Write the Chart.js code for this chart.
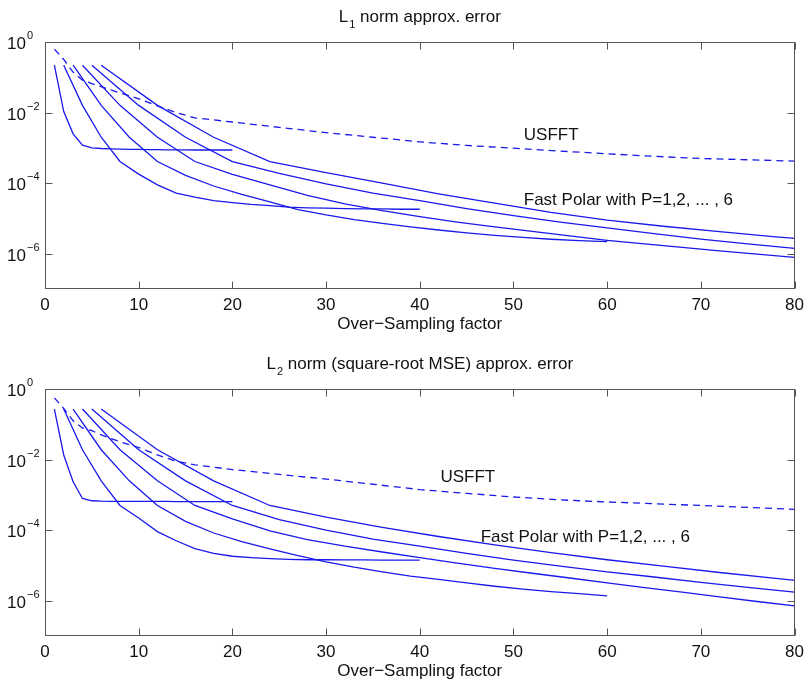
<!DOCTYPE html>
<html>
<head>
<meta charset="utf-8">
<script src="https://cdn.jsdelivr.net/npm/chart.js@4.4.1/dist/chart.umd.min.js"></script>
<style>
  html, body { margin: 0; padding: 0; background: #fff; }
  #wrap { position: relative; width: 810px; height: 682px; overflow: hidden; }
  .panel { position: absolute; left: 0; width: 810px; height: 335px; }
</style>
</head>
<body>
<div id="wrap">
  <div class="panel" style="top:0"><canvas id="chart-l1" width="810" height="335"></canvas></div>
  <div class="panel" style="top:347px"><canvas id="chart-l2" width="810" height="335"></canvas></div>
</div>
<script>
// --- data ---
const xTicks = [0, 10, 20, 30, 40, 50, 60, 70, 80];
const yTickExp = [0, -2, -4, -6];

// over-sampling factors of each Fast Polar curve (P = 1..6)
const polarX1 = [1, 2, 3, 4, 5, 6, 7, 8, 9, 10, 11, 12, 13, 14, 15, 16, 17, 18, 19, 20];
const polarX2 = [2, 4, 6, 8, 10, 12, 14, 16, 18, 20, 22, 24, 26, 28, 30, 32, 34, 36, 38, 40];
const polarX3 = [3, 6, 9, 12, 15, 18, 21, 24, 27, 30, 33, 36, 39, 42, 45, 48, 51, 54, 57, 60];
const polarX4 = [4, 8, 12, 16, 20, 24, 28, 32, 36, 40, 44, 48, 52, 56, 60, 64, 68, 72, 76, 80];
const polarX5 = [5, 10, 15, 20, 25, 30, 35, 40, 45, 50, 55, 60, 65, 70, 75, 80];
const polarX6 = [6, 12, 18, 24, 30, 36, 42, 48, 54, 60, 66, 72, 78, 84];
const usfftX  = [1, 2, 3, 4, 5, 6, 8, 10, 12, 14, 16, 20, 25, 30, 35, 40, 45, 50, 55, 60, 65, 70, 75, 80];

// L1 norm error
const l1Usfft = [6.3e-1, 3.2e-1, 1.4e-1, 8.3e-2, 6.6e-2, 5.4e-2, 3.6e-2, 2.45e-2, 1.55e-2, 1.0e-2, 7.1e-3, 5.4e-3,
                 3.8e-3, 2.7e-3, 2.0e-3, 1.48e-3, 1.17e-3, 9.8e-4, 8.1e-4, 6.8e-4, 5.75e-4, 5.0e-4, 4.6e-4, 4.2e-4];
const l1P1 = [2.2e-1, 1.07e-2, 2.5e-3, 1.2e-3, 1.0e-3, 9.6e-4, 9.4e-4, 9.2e-4, 9.1e-4, 9.0e-4,
              8.9e-4, 8.9e-4, 8.8e-4, 8.8e-4, 8.8e-4, 8.7e-4, 8.7e-4, 8.7e-4, 8.7e-4, 8.7e-4];
const l1P2 = [2.2e-1, 1.6e-2, 2.0e-3, 4.1e-4, 1.8e-4, 8.9e-5, 5.2e-5, 4.0e-5, 3.2e-5, 2.8e-5,
              2.5e-5, 2.3e-5, 2.1e-5, 2.0e-5, 1.95e-5, 1.9e-5, 1.86e-5, 1.86e-5, 1.82e-5, 1.82e-5];
const l1P3 = [2.2e-1, 1.6e-2, 2.0e-3, 4.1e-4, 1.66e-4, 8.3e-5, 4.8e-5, 2.95e-5, 1.78e-5, 1.26e-5,
              9.3e-6, 7.2e-6, 5.75e-6, 4.7e-6, 3.9e-6, 3.3e-6, 2.9e-6, 2.57e-6, 2.34e-6, 2.19e-6];
const l1P4 = [2.2e-1, 1.6e-2, 2.0e-3, 4.1e-4, 1.78e-4, 8.9e-5, 4.5e-5, 2.6e-5, 1.66e-5, 1.12e-5,
              7.9e-6, 5.75e-6, 4.3e-6, 3.2e-6, 2.4e-6, 1.9e-6, 1.51e-6, 1.2e-6, 9.8e-7, 7.9e-7];
const l1P5 = [2.2e-1, 1.6e-2, 2.0e-3, 4.1e-4, 1.9e-4, 9.5e-5, 5.2e-5, 3.2e-5, 1.9e-5, 1.2e-5,
              7.9e-6, 5.4e-6, 3.7e-6, 2.6e-6, 1.9e-6, 1.41e-6];
const l1P6 = [2.2e-1, 1.6e-2, 2.0e-3, 4.1e-4, 2.0e-4, 1.0e-4, 5.0e-5, 2.7e-5, 1.48e-5, 8.9e-6,
              6.0e-6, 4.2e-6, 3.0e-6, 2.24e-6];

// L2 norm (square-root MSE) error
const l2Usfft = [5.6e-1, 2.8e-1, 1.26e-1, 7.9e-2, 6.6e-2, 5.0e-2, 3.2e-2, 2.2e-2, 1.35e-2, 8.9e-3, 7.1e-3, 5.2e-3,
                 3.8e-3, 2.8e-3, 2.0e-3, 1.41e-3, 1.1e-3, 8.7e-4, 7.2e-4, 6.3e-4, 5.6e-4, 5.0e-4, 4.4e-4, 3.9e-4];
const l2P1 = [2.7e-1, 1.35e-2, 2.35e-3, 7.9e-4, 6.8e-4, 6.6e-4, 6.5e-4, 6.5e-4, 6.5e-4, 6.5e-4,
              6.5e-4, 6.5e-4, 6.5e-4, 6.4e-4, 6.4e-4, 6.4e-4, 6.4e-4, 6.4e-4, 6.4e-4, 6.4e-4];
const l2P2 = [2.7e-1, 1.9e-2, 2.5e-3, 5.0e-4, 2.2e-4, 9.1e-5, 5.0e-5, 3.0e-5, 2.2e-5, 1.82e-5,
              1.66e-5, 1.55e-5, 1.48e-5, 1.45e-5, 1.45e-5, 1.44e-5, 1.43e-5, 1.42e-5, 1.42e-5, 1.41e-5];
const l2P3 = [2.7e-1, 1.9e-2, 2.5e-3, 5.0e-4, 1.78e-4, 8.3e-5, 4.7e-5, 2.95e-5, 1.9e-5, 1.26e-5,
              8.9e-6, 6.6e-6, 5.0e-6, 4.0e-6, 3.2e-6, 2.57e-6, 2.14e-6, 1.82e-6, 1.58e-6, 1.38e-6];
const l2P4 = [2.7e-1, 1.9e-2, 2.5e-3, 5.0e-4, 2.1e-4, 9.5e-5, 5.4e-5, 3.5e-5, 2.4e-5, 1.66e-5,
              1.17e-5, 8.3e-6, 6.0e-6, 4.4e-6, 3.2e-6, 2.34e-6, 1.74e-6, 1.29e-6, 9.5e-7, 7.1e-7];
const l2P5 = [2.7e-1, 1.9e-2, 2.5e-3, 5.0e-4, 2.0e-4, 1.0e-4, 5.6e-5, 3.5e-5, 2.2e-5, 1.41e-5,
              9.5e-6, 6.6e-6, 4.7e-6, 3.3e-6, 2.4e-6, 1.74e-6];
const l2P6 = [2.7e-1, 1.9e-2, 2.5e-3, 5.0e-4, 2.34e-4, 1.2e-4, 6.6e-5, 3.8e-5, 2.3e-5, 1.45e-5,
              9.5e-6, 6.3e-6, 4.3e-6, 2.95e-6];

// --- style ---
const FONT = '"Liberation Sans", Arial, Helvetica, sans-serif';
const BLUE = 'rgb(25,25,235)';
const FRAME = '#555';

function pts(xs, ys) {
  return xs.map((x, i) => ({x: x, y: ys[i]}));
}

// MATLAB-like box, inward ticks, 10^n labels, titles and text notes
const matlabAxes = {
  id: 'matlabAxes',
  afterDraw(chart, args, opts) {
    const {ctx, chartArea: a, scales: {x, y}} = chart;
    const L = Math.round(a.left) + 0.5, R = Math.round(a.right) - 0.5;
    const T = Math.round(a.top) + 0.5, B = Math.round(a.bottom) - 0.5;
    ctx.save();
    ctx.strokeStyle = FRAME;
    ctx.lineWidth = 1;
    ctx.strokeRect(L, T, R - L, B - T);

    ctx.beginPath();
    xTicks.forEach(v => {
      const px = Math.round(x.getPixelForValue(v)) + 0.5;
      ctx.moveTo(px, B); ctx.lineTo(px, B - 7);
      ctx.moveTo(px, T); ctx.lineTo(px, T + 7);
    });
    yTickExp.forEach(e => {
      const py = Math.round(y.getPixelForValue(Math.pow(10, e))) + 0.5;
      ctx.moveTo(L, py); ctx.lineTo(L + 7, py);
      ctx.moveTo(R, py); ctx.lineTo(R - 7, py);
    });
    ctx.stroke();

    // y tick labels 10^n
    ctx.fillStyle = '#111';
    ctx.textBaseline = 'alphabetic';
    yTickExp.forEach(e => {
      const py = y.getPixelForValue(Math.pow(10, e));
      ctx.font = '17px ' + FONT;
      ctx.textAlign = 'right';
      ctx.fillText('10', a.left - 19, py + 7);
      ctx.font = '11px ' + FONT;
      ctx.textAlign = 'left';
      ctx.fillText(e === 0 ? '0' : '\u2212' + (-e), a.left - 18, py - 3);
    });

    // title with subscript
    const t = opts.title;
    ctx.font = '17px ' + FONT;
    const wL = ctx.measureText(t.main).width;
    const wRest = ctx.measureText(t.rest).width;
    ctx.font = '11px ' + FONT;
    const wSub = ctx.measureText(t.sub).width + 1;
    const cx = (a.left + a.right) / 2;
    let sx = cx - (wL + wSub + wRest) / 2;
    const base = a.top - 20;
    ctx.textAlign = 'left';
    ctx.font = '17px ' + FONT;
    ctx.fillText(t.main, sx, base);
    ctx.font = '11px ' + FONT;
    ctx.fillText(t.sub, sx + wL + 1, base + 6);
    ctx.font = '17px ' + FONT;
    ctx.fillText(t.rest, sx + wL + wSub, base);

    // text notes placed at data coordinates
    ctx.textBaseline = 'middle';
    opts.notes.forEach(n => {
      ctx.fillText(n.text, x.getPixelForValue(n.x), y.getPixelForValue(n.y));
    });
    ctx.restore();
  }
};

function makeChart(id, usfftY, polarYs, title, notes) {
  const polarXs = [polarX1, polarX2, polarX3, polarX4, polarX5, polarX6];
  const datasets = polarYs.map((ys, i) => ({
    label: 'P=' + (i + 1),
    data: pts(polarXs[i], ys),
    borderColor: BLUE,
    borderWidth: 1.3,
    pointRadius: 0,
    tension: 0
  }));
  datasets.push({
    label: 'USFFT',
    data: pts(usfftX, usfftY),
    borderColor: BLUE,
    borderWidth: 1.3,
    borderDash: [7, 5],
    pointRadius: 0,
    tension: 0
  });

  return new Chart(document.getElementById(id), {
    type: 'line',
    data: {datasets: datasets},
    options: {
      responsive: false,
      animation: false,
      events: [],
      layout: {padding: {top: 42, right: 10, bottom: 0, left: 0}},
      scales: {
        x: {
          type: 'linear', min: 0, max: 80,
          afterFit: s => { s.height = 46; },
          afterBuildTicks: s => { s.ticks = xTicks.map(v => ({value: v})); },
          ticks: {color: '#111', padding: 6, font: {size: 17, family: FONT}, maxRotation: 0},
          grid: {display: false, drawTicks: false},
          border: {display: false},
          title: {display: true, text: 'Over\u2212Sampling factor', color: '#111',
                  font: {size: 17, family: FONT}, padding: {top: 0, bottom: 0}}
        },
        y: {
          type: 'logarithmic', min: 1e-7, max: 1,
          afterFit: s => { s.width = 45; },
          ticks: {display: false},
          grid: {display: false, drawTicks: false},
          border: {display: false}
        }
      },
      plugins: {
        legend: {display: false},
        tooltip: {enabled: false},
        matlabAxes: {title: title, notes: notes}
      }
    },
    plugins: [matlabAxes]
  });
}

makeChart('chart-l1', l1Usfft, [l1P1, l1P2, l1P3, l1P4, l1P5, l1P6],
  {main: 'L', sub: '1', rest: ' norm approx. error'},
  [{text: 'USFFT', x: 51.1, y: 2.3e-3},
   {text: 'Fast Polar with P=1,2, ... , 6', x: 51.1, y: 3.3e-5}]);

makeChart('chart-l2', l2Usfft, [l2P1, l2P2, l2P3, l2P4, l2P5, l2P6],
  {main: 'L', sub: '2', rest: ' norm (square-root MSE) approx. error'},
  [{text: 'USFFT', x: 42.2, y: 3.2e-3},
   {text: 'Fast Polar with P=1,2, ... , 6', x: 46.5, y: 6.2e-5}]);
</script>
</body>
</html>
